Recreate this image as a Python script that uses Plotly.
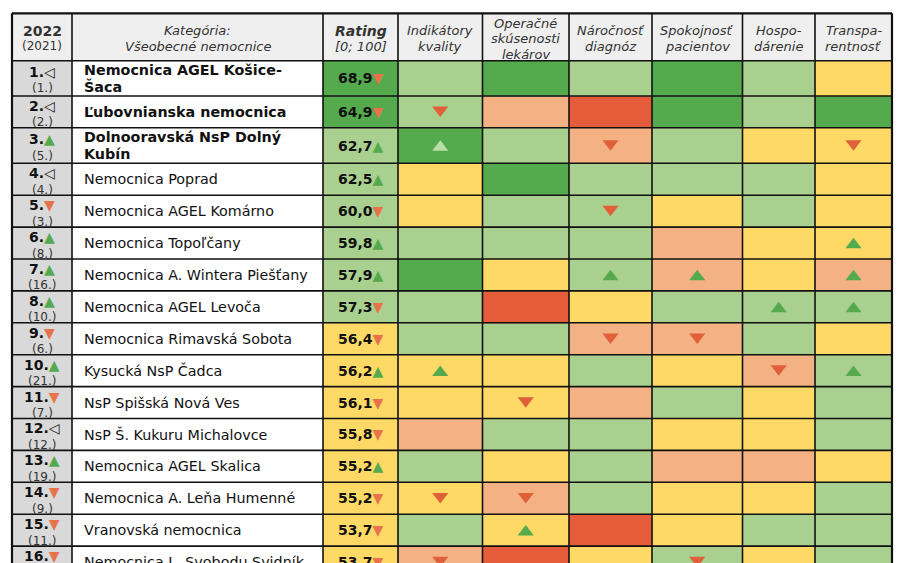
import plotly.graph_objects as go

# ---------------- data ----------------
RANK_2022 = list(range(1, 17))
RANK_2021 = [1, 2, 5, 4, 3, 8, 16, 10, 6, 21, 7, 12, 19, 9, 11, 13]

HOSPITALS = [
    "Nemocnica AGEL Košice-Šaca",
    "Ľubovnianska nemocnica",
    "Dolnooravská NsP Dolný Kubín",
    "Nemocnica Poprad",
    "Nemocnica AGEL Komárno",
    "Nemocnica Topoľčany",
    "Nemocnica A. Wintera Piešťany",
    "Nemocnica AGEL Levoča",
    "Nemocnica Rimavská Sobota",
    "Kysucká NsP Čadca",
    "NsP Spišská Nová Ves",
    "NsP Š. Kukuru Michalovce",
    "Nemocnica AGEL Skalica",
    "Nemocnica A. Leňa Humenné",
    "Vranovská nemocnica",
    "Nemocnica L. Svobodu Svidník",
]

RATING = [68.9, 64.9, 62.7, 62.5, 60.0, 59.8, 57.9, 57.3, 56.4, 56.2, 56.1, 55.8, 55.2, 55.2, 53.7, 53.7]
RATING_TREND = [-1, -1, 1, 1, -1, 1, 1, -1, -1, 1, -1, -1, 1, -1, -1, -1]
# level codes: 1 = best (dark green) ... 5 = worst (red)
RATING_LEVEL = [1, 1, 2, 2, 2, 2, 2, 2, 3, 3, 3, 3, 3, 3, 3, 3]

LEVEL_INDIKATORY = [2, 2, 1, 3, 3, 2, 1, 2, 2, 3, 3, 4, 2, 3, 2, 4]
LEVEL_OPERACNE = [1, 4, 2, 1, 2, 2, 3, 5, 2, 3, 3, 2, 3, 4, 3, 5]
LEVEL_NAROCNOST = [2, 5, 4, 2, 2, 2, 2, 3, 4, 2, 4, 2, 2, 2, 5, 3]
LEVEL_SPOKOJNOST = [1, 1, 2, 2, 3, 4, 4, 2, 4, 3, 2, 3, 4, 3, 3, 2]
LEVEL_HOSPODARENIE = [2, 2, 3, 2, 2, 3, 3, 2, 2, 4, 3, 3, 4, 3, 2, 3]
LEVEL_TRANSPARENTNOST = [3, 1, 3, 3, 3, 3, 4, 2, 3, 2, 2, 2, 3, 2, 2, 2]

# trends: 1 = up, -1 = down, 0 = none
TREND_INDIKATORY = [0, -1, 1, 0, 0, 0, 0, 0, 0, 1, 0, 0, 0, -1, 0, -1]
TREND_OPERACNE = [0, 0, 0, 0, 0, 0, 0, 0, 0, 0, -1, 0, 0, -1, 1, 0]
TREND_NAROCNOST = [0, 0, -1, 0, -1, 0, 1, 0, -1, 0, 0, 0, 0, 0, 0, 0]
TREND_SPOKOJNOST = [0, 0, 0, 0, 0, 0, 1, 0, -1, 0, 0, 0, 0, 0, 0, -1]
TREND_HOSPODARENIE = [0, 0, 0, 0, 0, 0, 0, 1, 0, -1, 0, 0, 0, 0, 0, 0]
TREND_TRANSPARENTNOST = [0, 0, -1, 0, 0, 1, 1, 1, 0, 1, 0, 0, 0, 0, 0, 0]

HEADER_RANK = ["2022", "(2021)"]
HEADER_NAME = ["Kategória:", "Všeobecné nemocnice"]
HEADER_RATING = ["Rating", "[0; 100]"]
HEADER_CRITERIA = [
    ["Indikátory", "kvality"],
    ["Operačné", "skúsenosti", "lekárov"],
    ["Náročnosť", "diagnóz"],
    ["Spokojnosť", "pacientov"],
    ["Hospo-", "dárenie"],
    ["Transpa-", "rentnosť"],
]

CRIT_LEVELS = [LEVEL_INDIKATORY, LEVEL_OPERACNE, LEVEL_NAROCNOST,
               LEVEL_SPOKOJNOST, LEVEL_HOSPODARENIE, LEVEL_TRANSPARENTNOST]
CRIT_TRENDS = [TREND_INDIKATORY, TREND_OPERACNE, TREND_NAROCNOST,
               TREND_SPOKOJNOST, TREND_HOSPODARENIE, TREND_TRANSPARENTNOST]

# ---------------- layout / style ----------------
W, H = 900, 563
FONT = "DejaVu Sans"
TABLE_LEFT, TABLE_TOP = 12.0, 13.3
COL_W = [60, 251, 75, 84.5, 86.5, 83, 90.5, 72.5, 77]
ROW_H = [47.4, 35.3, 31.7, 35.6] + [31.9] * 13

NAME_WRAP = {
    "Nemocnica AGEL Košice-Šaca": ["Nemocnica AGEL Košice-", "Šaca"],
    "Dolnooravská NsP Dolný Kubín": ["Dolnooravská NsP Dolný", "Kubín"],
}
BOLD_ROWS = 3

C_RANKBG = "#D9D9D9"
C_HEADBG = "#EFEFEF"
LEVEL_COLORS = ["#55AA4E", "#A9D08E", "#FFD966", "#F4B183", "#E45C3A"]
C_UP = "#54AA4C"
C_UP_ON_DARK = "#B8DDA5"
C_DOWN = "#E0603A"
C_DOWN_SMALL = "#E8734A"
C_TEXT = "#111111"
C_HEAD_TEXT = "#333333"

col_edges = [TABLE_LEFT]
for w in COL_W:
    col_edges.append(col_edges[-1] + w)
row_edges = [TABLE_TOP]
for h in ROW_H:
    row_edges.append(row_edges[-1] + h)
col_c = [(col_edges[i] + col_edges[i + 1]) / 2 for i in range(len(COL_W))]
row_c = [(row_edges[i] + row_edges[i + 1]) / 2 for i in range(len(ROW_H))]

# ---------------- background grid (heatmap with cell edges) ----------------
# codes: 0 rank grey, 1..5 levels, 6 white, 7 header grey
palette = [C_RANKBG] + LEVEL_COLORS + ["#FFFFFF", C_HEADBG]
n = len(palette)
colorscale = []
for i, c in enumerate(palette):
    colorscale.append([i / n, c])
    colorscale.append([(i + 1) / n, c])

z = [[7] * len(COL_W)]
for r in range(len(HOSPITALS)):
    z.append([0, 6, RATING_LEVEL[r]] + [lv[r] for lv in CRIT_LEVELS])

fig = go.Figure()
fig.add_trace(go.Heatmap(
    x=col_edges, y=row_edges, z=z,
    colorscale=colorscale, zmin=-0.5, zmax=n - 0.5,
    showscale=False, hoverinfo="skip", xgap=0, ygap=0,
))

# ---------------- trend triangles in criterion cells ----------------
ux, uy, ucol, dx, dy = [], [], [], [], []
for k, (lv, tr) in enumerate(zip(CRIT_LEVELS, CRIT_TRENDS)):
    for r in range(len(HOSPITALS)):
        if tr[r] == 1:
            ux.append(col_c[3 + k]); uy.append(row_c[r + 1])
            ucol.append(C_UP_ON_DARK if lv[r] == 1 else C_UP)
        elif tr[r] == -1:
            dx.append(col_c[3 + k]); dy.append(row_c[r + 1])
fig.add_trace(go.Scatter(x=ux, y=[v + 1.8 for v in uy], mode="markers", hoverinfo="skip",
                         marker=dict(symbol="triangle-up", size=14, color=ucol, line=dict(width=0))))
fig.add_trace(go.Scatter(x=dx, y=[v - 1.8 for v in dy], mode="markers", hoverinfo="skip",
                         marker=dict(symbol="triangle-down", size=14, color=C_DOWN, line=dict(width=0))))

annotations = []


def ann(x, y, text, size, color=C_TEXT, xanchor="center", **kw):
    annotations.append(dict(x=x, y=y, xref="x", yref="y", text=text, showarrow=False,
                            xanchor=xanchor, yanchor="middle",
                            font=dict(family=FONT, size=size, color=color), **kw))


# ---------------- header ----------------
hc = row_c[0] + 1.5
SP = 15.5


def header_lines(ci, lines, fmts, sizes):
    m = len(lines)
    for i, t in enumerate(lines):
        y = hc + (i - (m - 1) / 2) * SP
        ann(col_c[ci], y, fmts[i].format(t), sizes[i], C_HEAD_TEXT)


header_lines(0, HEADER_RANK, ["<b>{}</b>", "{}"], [14, 12])
header_lines(1, HEADER_NAME, ["<i>{}</i>", "<i>{}</i>"], [13, 13])
header_lines(2, HEADER_RATING, ["<b><i>{}</i></b>", "<i>{}</i>"], [14, 13])
for k, lines in enumerate(HEADER_CRITERIA):
    header_lines(3 + k, lines, ["<i>{}</i>"] * len(lines), [13] * len(lines))

# ---------------- body text ----------------
for r, name in enumerate(HOSPITALS):
    top, bot = row_edges[r + 1], row_edges[r + 2]
    h = bot - top
    # rank column
    if RANK_2022[r] < RANK_2021[r]:
        sym = f"<span style='color:{C_UP}'>▲</span>"
    elif RANK_2022[r] > RANK_2021[r]:
        sym = f"<span style='color:{C_DOWN_SMALL}'>▼</span>"
    else:
        sym = "<b><span style='color:#222222'>◁</span></b>"
    y2 = bot - 5.5 - (h - 31.9) * 0.6
    y1 = y2 - 16.5
    ann(col_c[0], y1, f"<b>{RANK_2022[r]}.</b>{sym}", 14)
    ann(col_c[0], y2, f"({RANK_2021[r]}.)", 12, "#333333")
    # name column
    lines = NAME_WRAP.get(name, [name])
    m = len(lines)
    for i, t in enumerate(lines):
        y = row_c[r + 1] + (i - (m - 1) / 2) * 17.0
        txt = f"<b>{t}</b>" if r < BOLD_ROWS else t
        ann(col_edges[1] + 10, y, txt, 14.3, C_TEXT, xanchor="left")
    # rating
    val = f"{RATING[r]:.1f}".replace(".", ",")
    tri = (f"<span style='color:{C_UP}'>▲</span>" if RATING_TREND[r] > 0
           else f"<span style='color:{C_DOWN_SMALL}'>▼</span>")
    ann(col_c[2], row_c[r + 1], f"<b>{val}</b>{tri}", 14)

# ---------------- grid lines ----------------
shapes = []
x0, x1 = col_edges[0], col_edges[-1]
y0, y1 = row_edges[0], row_edges[-1]
for i, xe in enumerate(col_edges):
    outer = i in (0, len(col_edges) - 1)
    shapes.append(dict(type="line", xref="x", yref="y", x0=xe, x1=xe, y0=y0, y1=y1,
                       line=dict(color="#111111", width=2.2 if outer else 1.6)))
for i, ye in enumerate(row_edges):
    outer = i == 0
    shapes.append(dict(type="line", xref="x", yref="y", x0=x0, x1=x1, y0=ye, y1=ye,
                       line=dict(color="#111111", width=2.2 if outer else 1.6)))

fig.update_layout(
    width=W, height=H,
    margin=dict(l=0, r=0, t=0, b=0, pad=0),
    paper_bgcolor="white", plot_bgcolor="white",
    xaxis=dict(range=[0, W], visible=False, fixedrange=True),
    yaxis=dict(range=[H, 0], visible=False, fixedrange=True),
    showlegend=False,
    annotations=annotations,
    shapes=shapes,
    font=dict(family=FONT),
)

fig.write_html("out.html", config={"displayModeBar": False},
               post_script="document.body.style.margin='0';document.body.style.overflow='hidden';")
